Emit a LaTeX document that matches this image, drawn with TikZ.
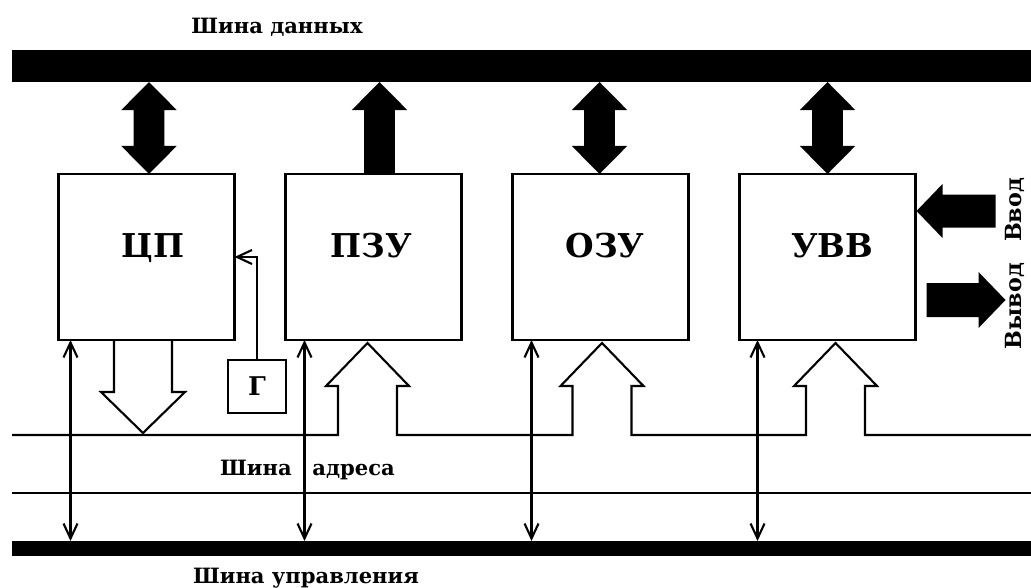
\documentclass[tikz,border=0pt]{standalone}
\usepackage{fontspec}
\setmainfont{DejaVu Serif}
\usetikzlibrary{calc, positioning, arrows.meta}
\def\unitlinewidth{2.3pt}
\def\wirelinewidth{1.8pt}
\def\unitwidth{5.28cm}
\def\unitheight{4.98cm}
\def\unitgap{1.53cm}
\def\buswidth{30.57cm}
\def\dataheadhalf{0.83cm}
\def\datashafthalf{0.46cm}
\def\dataheadlength{0.84cm}
\def\barblength{0.45cm}
\def\barbwidth{0.42cm}
% raised notch of the address bus into a unit
\def\notchup{-- ++(0,-49) -- ++(-12,0) -- ++(41.5,-43) -- ++(41.5,43) -- ++(-12,0) -- ++(0,49)}
% two-way block arrow between a unit and the data bus
\newcommand{\dataarrow}[2][0]{%
	\fill[blockarrow] let \p1=($(#2.north)+(#1,0)$), \p2=(databus.south) in
		(\x1,\y1) -- (\x1-\dataheadhalf,\y1+\dataheadlength) -- (\x1-\datashafthalf,\y1+\dataheadlength)
		-- (\x1-\datashafthalf,\y2-\dataheadlength) -- (\x1-\dataheadhalf,\y2-\dataheadlength) -- (\x1,\y2)
		-- (\x1+\dataheadhalf,\y2-\dataheadlength) -- (\x1+\datashafthalf,\y2-\dataheadlength)
		-- (\x1+\datashafthalf,\y1+\dataheadlength) -- (\x1+\dataheadhalf,\y1+\dataheadlength) -- cycle;
}
\tikzset{
	% bus captions
	buslabel/.style={
		font=\bfseries\fontsize{18}{21}\selectfont,
		inner sep=0,
	},
	% input / output captions
	sidelabel/.style={
		font=\bfseries\fontsize{19}{22}\selectfont,
		inner sep=0,
		rotate=90,
	},
	% units
	unit/.style={
		draw,
		line width=\unitlinewidth,
		minimum width=\unitwidth,
		minimum height=\unitheight,
		inner sep=0,
		outer sep=0,
	},
	unitname/.style={
		font=\bfseries\fontsize{28}{32}\selectfont,
		inner sep=0,
		text height=0.72cm,
		text depth=0pt,
		yshift=0.36cm,
	},
	% clock generator
	clock/.style={
		draw,
		line width=\unitlinewidth,
		minimum width=1.74cm,
		minimum height=1.59cm,
		inner sep=0,
		outer sep=0,
		font=\bfseries\fontsize{22}{24}\selectfont,
	},
	% buses
	bus/.style={
		fill=black,
		inner sep=0,
		outer sep=0,
		minimum width=\buswidth,
	},
	% thin lines
	wire/.style={
		line width=\wirelinewidth,
		>={Straight Barb[length=\barblength, width=\barbwidth]},
	},
	signal/.style={
		wire,
		<->,
	},
	% block arrows
	blockarrow/.style={
		fill=black,
	},
	hollowarrow/.style={
		wire,
		line join=miter,
	},
}
\begin{document}
\begin{tikzpicture}[x=0.03cm, y=-0.03cm]
	\useasboundingbox (0,0) rectangle (1031,588);
	% buses
	\node[bus, minimum height=0.96cm] (databus) at (521.5,66) {};
	\node[bus, minimum height=0.45cm] (ctrlbus) at (521.5,548.5) {};
	\node[buslabel] (datalabel) at (277,27) {Шина данных};
	\node[buslabel] (ctrllabel) at (306,578) {Шина управления};
	\node[buslabel] (addrlabel) at (307.5,470) {Шина\hspace{0.62cm}адреса};
	%
	% units
	\node[unit, label={[unitname, xshift=0.2cm]center:ЦП}] (cpu) at (146.5,257) {};
	\node[unit, right=\unitgap of cpu, label={[unitname, xshift=-0.06cm]center:ПЗУ}] (rom) {};
	\node[unit, right=\unitgap of rom, label={[unitname, xshift=0.14cm]center:ОЗУ}] (ram) {};
	\node[unit, right=\unitgap of ram, label={[unitname, xshift=0.14cm]center:УВВ}] (io) {};
	\node[clock] (gen) at (257,386.5) {Г};
	\draw[wire, ->] (gen.north) |- (cpu.east);
	%
	% data bus
	\dataarrow[2.5]{cpu}
	\dataarrow[-1]{ram}
	\dataarrow{io}
	\fill[blockarrow] let \p1=($(rom.north)+(6,0)$), \p2=(databus.south) in
		(\x1-\datashafthalf,\y1) -- (\x1-\datashafthalf,\y2-\dataheadlength) -- (\x1-\dataheadhalf,\y2-\dataheadlength)
		-- (\x1,\y2) -- (\x1+\dataheadhalf,\y2-\dataheadlength) -- (\x1+\datashafthalf,\y2-\dataheadlength)
		-- (\x1+\datashafthalf,\y1) -- cycle;
	%
	% address bus
	\coordinate (abusW) at (12,435);
	\coordinate (abusE) at (1031,435);
	\coordinate (abus2W) at (12,493);
	\coordinate (abus2E) at (1031,493);
	\draw[hollowarrow] (abusW) -- ($(rom.south |- abusW)+(-35.5,0)$) \notchup
		-- ($(ram.south |- abusW)+(-28,0)$) \notchup
		-- ($(io.south |- abusW)+(-21.5,0)$) \notchup -- (abusE);
	\draw[wire] (abus2W) -- (abus2E);
	\draw[hollowarrow] ($(cpu.south)+(-32.5,0)$) -- ++(0,52) -- ++(-13,0) -- ++(42,41) -- ++(42,-41) -- ++(-13,0) -- ++(0,-52);
	%
	% control bus
	\foreach \u/\dx in {cpu/12, rom/19, ram/19, io/18}
		\draw[signal] ($(\u.south west)+(\dx,0)$) coordinate (tap) -- (tap |- ctrlbus.north);
	%
	% input / output
	\fill[blockarrow] ($(io.east)+(1,-46)$) -- ++(26,-27) -- ++(0,10.5) -- ++(53,0) -- ++(0,33) -- ++(-53,0) -- ++(0,10.5) -- cycle;
	\fill[blockarrow] ($(io.east)+(11,26)$) -- ++(52,0) -- ++(0,-11) -- ++(27,28) -- ++(-27,28) -- ++(0,-11) -- ++(-52,0) -- cycle;
	\node[sidelabel] (inlabel) at (1015,210) {Ввод};
	\node[sidelabel] (outlabel) at (1015,306) {Вывод};
\end{tikzpicture}
\end{document}
